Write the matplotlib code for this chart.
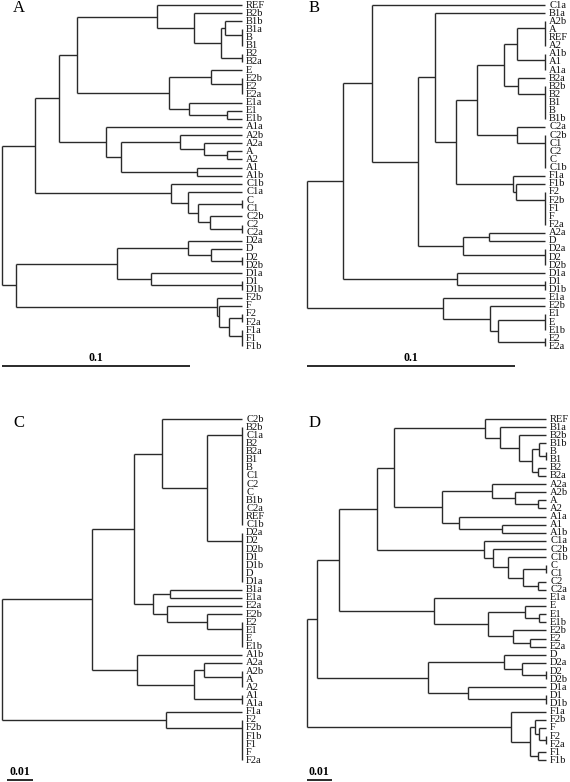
import matplotlib
matplotlib.use("Agg")
import matplotlib.pyplot as plt

plt.rcParams['font.family'] = ['Liberation Serif', 'DejaVu Serif']

# trees: internal node = [height, child, child, ...], leaf = name
# heights are distances from the tips (ultrametric trees)
tree_a = [0.1277,
    [0.1101,
        [0.0973,
            [0.0878,
                [0.0452, "REF",
                    [0.0255, "B2b",
                        [0.0112,
                            [0.0090, "B1b", [0, "B1a", "B", "B1"]],
                            [0, "B2", "B2a"]]]],
                [0.0388,
                    [0.0165, "E", [0, "E2b", "E2", "E2a"]],
                    [0.0282, "E1a", [0.0080, "E1", "E1b"]]]],
            [0.0723, "A1a",
                [0.0644,
                    [0.0330, "A2b", [0.0202, "A2a", [0.0080, "A", "A2"]]],
                    [0.0239, "A1", "A1b"]]]],
        [0.0378, "C1b",
            [0.0287, "C1a",
                [0.0234, [0, "C", "C1"], [0.0170, "C2b", [0, "C2", "C2a"]]]]]],
    [0.1202,
        [0.0665,
            [0.0287, "D2a", [0.0165, "D", [0, "D2", "D2b"]]],
            [0.0484, "D1a", [0, "D1", "D1b"]]],
        [0.0135, "F2b",
            [0.0122, "F", [0.0069, [0, "F2", "F2a"], [0, "F1a", "F1", "F1b"]]]]]]

tree_b = [0.1144,
    [0.0968,
        [0.0832, "C1a",
            [0.0608,
                [0.0528, "B1a",
                    [0.0427,
                        [0.0328,
                            [0.0195,
                                [0.0133, [0, "A2b", "A", "REF", "A2"], [0, "A1b", "A1", "A1a"]],
                                [0.0128, "B2a", [0, "B2b", "B2", "B1", "B", "B1b"]]],
                            [0.0133, "C2a", [0, "C2b", "C1", "C2", "C", "C1b"]]],
                        [0.0155, "F1a", [0.0139, "F1b", [0, "F2", "F2b", "F1", "F", "F2a"]]]]],
                [0.0392, [0.0269, "A2a", "D"], [0, "D2a", "D2", "D2b"]]]],
        [0.0421, "D1a", [0, "D1", "D1b"]]],
    [0.0488, "E1a",
        [0.0264, "E2b", [0.0224, [0, "E1", "E", "E1b"], [0, "E2", "E2a"]]]]]

tree_c = [0.0949,
    [0.0591,
        [0.0426,
            [0.0317, "C2b",
                [0.0139,
                    [0, "B2b", "C1a", "B2", "B2a", "B1", "B", "C1", "C2", "C",
                     "B1b", "C2a", "REF", "C1b"],
                    [0, "D2a", "D2", "D2b", "D1", "D1b", "D", "D1a"]]],
            [0.0350,
                [0.0284, "B1a", "E1a"],
                [0.0297, "E2a", [0.0139, "E2b", [0, "E2", "E1", "E", "E1b"]]]]],
        [0.0416, "A1b",
            [0.0190, [0.0149, "A2a", [0, "A2b", "A", "A2"]], [0, "A1", "A1a"]]]],
    [0.0300, "F1a", [0, "F2", "F2b", "F1b", "F1", "F", "F2a"]]]

tree_d = [0.0957,
    [0.0915,
        [0.0828,
            [0.0677,
                [0.0607,
                    [0.0244, "REF",
                        [0.0184, "B1a",
                            [0.0107, "B2b",
                                [0.0057, [0.0028, "B1b", [0, "B", "B1"]],
                                         [0.0032, "B2", "B2a"]]]]],
                    [0.0417,
                        [0.0217, "A2a", [0.0124, "A2b", [0.0033, "A", "A2"]]],
                        [0.0348, "A1a", [0.0175, "A1", "A1b"]]]],
                [0.0248, "C1a",
                    [0.0211, "C2b",
                        [0.0153, "C1b",
                            [0.0091, [0, "C", "C1"], [0.0031, "C2", "C2a"]]]]]],
            [0.0447, "E1a",
                [0.0231,
                    [0.0084, "E", [0.0028, "E1", "E1b"]],
                    [0.0131, "E2b", [0.0064, "E2", "E2a"]]]]],
        [0.0473,
            [0.0168, "D", [0.0095, "D2a", [0, "D2", "D2b"]]],
            [0.0313, "D1a", [0, "D1", "D1b"]]]],
    [0.0140, "F1a",
        [0.0064,
            [0.0044, "F2b", [0.0028, "F", [0, "F2", "F2a"]]],
            [0.0032, "F1", "F1b"]]]]

panel_letters = ["A", "B", "C", "D"]
scale_lengths = [0.1, 0.1, 0.01, 0.01]
scale_labels = ["0.1", "0.1", "0.01", "0.01"]

W, H = 570, 782
LINE = '#2a2a2a'

# layout in pixels: (origin x, origin y, tip x, px per unit, first leaf y, scale bar start x, letter pos)
panels = [
    (0, 0, 242, 1880, 5, 2, (18.5, 8)),
    (285, 0, 545, 2083, 5, 306.7, (314, 8)),
    (0, 391, 242, 2533, 419, 7.3, (18.5, 423)),
    (285, 391, 546, 2500, 419, 306.7, (315, 423)),
]
STEP = 8.13


def draw(ax, node, counter):
    if isinstance(node, str):
        y = counter[0]
        counter[0] += 1
        ax.annotate(node, (0, y), xytext=(3.0, 0), textcoords='offset points',
                    va='center', ha='left', fontsize=7.6, color='#111111')
        return y, 0.0
    h = node[0]
    kids = [draw(ax, c, counter) for c in node[1:]]
    for cy, ch in kids:
        if h > ch:
            ax.plot([h, ch], [cy, cy], color=LINE, lw=1.0, solid_capstyle='butt')
    ax.plot([h, h], [kids[0][0], kids[-1][0]], color=LINE, lw=1.0, solid_capstyle='butt')
    y = kids[-1][0]
    for cy, ch in reversed(kids[:-1]):
        y = (cy + y) / 2
    return y, h


fig = plt.figure(figsize=(W / 100, H / 100), dpi=100)
trees = [tree_a, tree_b, tree_c, tree_d]

for tree, letter, slen, slab, (ox, oy, tip, ppu, y0, bx, lpos) in zip(
        trees, panel_letters, scale_lengths, scale_labels, panels):
    ax = fig.add_axes([ox / W, 1 - (oy + 391) / H, 285 / W, 391 / H])
    ax.axis('off')
    ax.set_xlim((tip - ox) / ppu, (tip - ox - 285) / ppu)
    ax.set_ylim((oy + 391 - y0) / STEP, (oy - y0) / STEP)
    draw(ax, tree, [0])

    # scale bar
    b0 = (tip - bx) / ppu
    yb = 44.4
    ax.plot([b0, b0 - slen], [yb, yb], color=LINE, lw=1.4, solid_capstyle='butt')
    ax.annotate(slab, (b0 - slen / 2, yb), xytext=(0, 1.5), textcoords='offset points',
                ha='center', va='bottom', fontsize=8.6, fontweight='bold')

    fig.text(lpos[0] / W, 1 - lpos[1] / H, letter, fontsize=12,
             ha='center', va='center')

fig.savefig("out.png", dpi=100)
